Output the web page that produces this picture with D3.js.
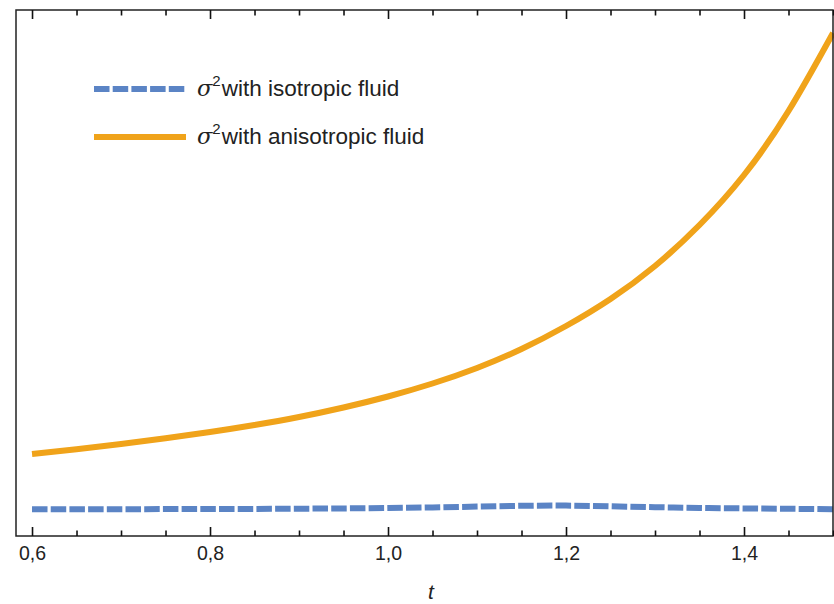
<!DOCTYPE html>
<html>
<head>
<meta charset="utf-8">
<script src="https://cdn.jsdelivr.net/npm/d3@7"></script>
<style>
  body { margin: 0; background: #fff; }
  svg { display: block; font-family: "Liberation Sans", Arial, sans-serif; }
</style>
</head>
<body>
<script>
// t values sampled along the curves
const tValues = [0.6, 0.65, 0.7, 0.75, 0.8, 0.85, 0.9, 0.95, 1.0, 1.05, 1.1, 1.15, 1.2, 1.25, 1.3, 1.35, 1.4, 1.45, 1.5]
const isoValues = [2.67, 2.67, 2.68, 2.69, 2.7, 2.71, 2.73, 2.76, 2.8, 2.86, 2.94, 3.02, 3.04, 2.97, 2.88, 2.81, 2.76, 2.72, 2.68]
const anisoValues = [8.2, 8.68, 9.2, 9.78, 10.4, 11.1, 11.9, 12.85, 13.95, 15.25, 16.8, 18.7, 21.0, 23.7, 27.0, 31.1, 36.1, 42.5, 50.3]
const majorTicks = [0.6, 0.8, 1.0, 1.2, 1.4]
const minorTicks = [0.65, 0.7, 0.75, 0.85, 0.9, 0.95, 1.05, 1.1, 1.15, 1.25, 1.3, 1.35, 1.45, 1.5]
const legendLabels = ['with isotropic fluid', 'with anisotropic fluid']

const w = 834
const h = 604
const padL = 16, padR = 833, padT = 10, padB = 536
const blue = '#5b84c5'
const orange = '#f0a31a'

const svg = d3.select('body').append('svg')
    .attr('width', w)
    .attr('height', h)

const xScale = d3.scaleLinear()
    .domain([0.582, 1.5])
    .range([padL, padR])

const yScale = d3.scaleLinear()
    .domain([0, 52.6])
    .range([padB, padT])

const line = ys => d3.line()
    .x((d, i) => xScale(tValues[i]))
    .y(d => yScale(d))
    .curve(d3.curveNatural)(ys)

svg.append('path')
    .attr('d', line(anisoValues))
    .attr('fill', 'none')
    .attr('stroke', orange)
    .attr('stroke-width', 6)

svg.append('path')
    .attr('d', line(isoValues))
    .attr('fill', 'none')
    .attr('stroke', blue)
    .attr('stroke-width', 6)
    .attr('stroke-dasharray', '15.5 3.2')

// frame
svg.append('rect')
    .attr('x', padL)
    .attr('y', padT)
    .attr('width', padR - padL)
    .attr('height', padB - padT)
    .attr('fill', 'none')
    .attr('stroke', '#222')
    .attr('stroke-width', 1.5)

const fmt = d => d3.format('.1f')(d).replace('.', ',')

// bottom axis
const bottomMajor = svg.append('g')
    .attr('transform', `translate(0,${padB})`)
    .call(d3.axisBottom(xScale).tickValues(majorTicks).tickSizeInner(-9).tickSizeOuter(0).tickPadding(10).tickFormat(fmt))
svg.append('g')
    .attr('transform', `translate(0,${padB})`)
    .call(d3.axisBottom(xScale).tickValues(minorTicks).tickSizeInner(-5.5).tickSizeOuter(0).tickFormat(''))

// top axis
svg.append('g')
    .attr('transform', `translate(0,${padT})`)
    .call(d3.axisTop(xScale).tickValues(majorTicks).tickSizeInner(-9).tickSizeOuter(0).tickFormat(''))
svg.append('g')
    .attr('transform', `translate(0,${padT})`)
    .call(d3.axisTop(xScale).tickValues(minorTicks).tickSizeInner(-5.5).tickSizeOuter(0).tickFormat(''))

svg.selectAll('.domain').remove()
svg.selectAll('.tick line').attr('stroke', '#111').attr('stroke-width', 1.6)
bottomMajor.selectAll('text')
    .attr('font-size', 19.5)
    .attr('fill', '#222')
    .attr('font-family', '"Liberation Sans", Arial, sans-serif')

svg.append('text')
    .attr('x', 431)
    .attr('y', 599)
    .attr('text-anchor', 'middle')
    .attr('font-size', 21)
    .attr('font-style', 'italic')
    .attr('fill', '#222')
    .text('t')

// legend
const legend = svg.append('g')
const rows = [{ color: blue, dash: '15.5 3.2', y: 89, label: legendLabels[0] },
              { color: orange, dash: null, y: 137, label: legendLabels[1] }]
rows.forEach(r => {
    legend.append('line')
        .attr('x1', 94).attr('x2', 186)
        .attr('y1', r.y).attr('y2', r.y)
        .attr('stroke', r.color)
        .attr('stroke-width', 6)
        .attr('stroke-dasharray', r.dash)
    const t = legend.append('text')
        .attr('x', 197)
        .attr('y', r.y + 7)
        .attr('font-size', 22.5)
        .attr('fill', '#222')
    t.append('tspan').attr('font-style', 'italic').attr('font-family', '"DejaVu Serif", serif').text('σ')
    t.append('tspan').attr('font-size', 15).attr('dy', -10).text('2')
    t.append('tspan').attr('dy', 10).attr('dx', 1).text(r.label)
})
</script>
</body>
</html>
